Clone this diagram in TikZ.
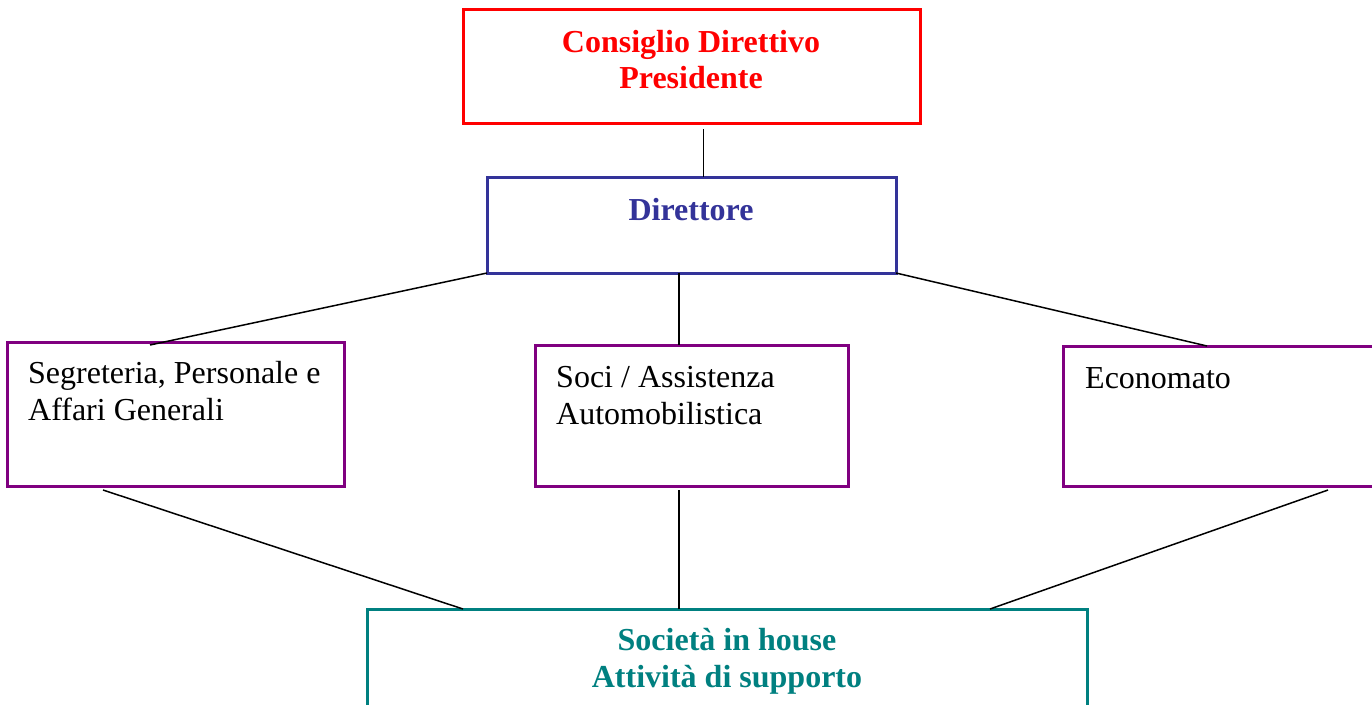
\documentclass[tikz,border=0pt]{standalone}
\usepackage{fontspec}
\setmainfont{Liberation Serif}
\definecolor{cdred}{HTML}{FF0000}
\definecolor{dirblue}{HTML}{333399}
\definecolor{offpurple}{HTML}{800080}
\definecolor{socteal}{HTML}{008080}
\tikzset{
  box/.style={draw, line width=3pt, inner sep=0pt, outer sep=0pt, anchor=north west, fill=white},
  conn/.style={draw=black, line width=1.5pt},
  lbl/.style={inner sep=0pt, font=\fontsize{32}{38}\selectfont},
  blbl/.style={lbl, font=\fontsize{32}{38}\selectfont\bfseries, anchor=base},
}
\begin{document}
\begin{tikzpicture}[x=1pt,y=-1pt]
\useasboundingbox (0,0) rectangle (1372,704);
% boxes
\node[box, draw=cdred, minimum width=457pt, minimum height=114pt] (cd) at (463,9) {};
\node[box, draw=dirblue, minimum width=409pt, minimum height=96pt] (dir) at (487,177) {};
\node[box, draw=offpurple, minimum width=337pt, minimum height=144pt] (seg) at (7,342) {};
\node[box, draw=offpurple, minimum width=313pt, minimum height=141pt] (soci) at (535,345) {};
\node[box, draw=offpurple, minimum width=320pt, minimum height=140pt] (econ) at (1063,346) {};
\node[box, draw=socteal, minimum width=720pt, minimum height=120pt] (soc) at (367,609) {};
% connectors
\draw[conn] ([xshift=12pt,yshift=-6pt]cd.south) -- ([xshift=12pt]dir.north);
\draw[conn] (dir.south west) -- ([xshift=143pt,yshift=-3pt]seg.north west);
\draw[conn] ([xshift=-12.5pt]dir.south) -- ([xshift=-12.5pt]soci.north);
\draw[conn] (dir.south east) -- ([xshift=144pt]econ.north west);
\draw[conn] ([xshift=96pt,yshift=-4pt]seg.south west) -- ([xshift=96pt]soc.north west);
\draw[conn] ([xshift=-12.5pt,yshift=-4pt]soci.south) -- ([xshift=312pt]soc.north west);
\draw[conn] ([xshift=265pt,yshift=-4pt]econ.south west) -- ([xshift=623pt]soc.north west);
% texts
\node[blbl, text=cdred] (cdt1) at (691,52) {Consiglio Direttivo};
\node[blbl, text=cdred] (cdt2) at (691,88) {Presidente};
\node[blbl, text=dirblue] (dirt) at (691,220) {Direttore};
\node[lbl, anchor=base west] (segt1) at (28,383) {Segreteria, Personale e};
\node[lbl, anchor=base west] (segt2) at (28,420) {Affari Generali};
\node[lbl, anchor=base west] (socit1) at (556,387) {Soci / Assistenza};
\node[lbl, anchor=base west] (socit2) at (556,424) {Automobilistica};
\node[lbl, anchor=base west] (econt) at (1085,388) {Economato};
\node[blbl, text=socteal] (soct1) at (727,650) {Società in house};
\node[blbl, text=socteal] (soct2) at (727,687) {Attività di supporto};
\end{tikzpicture}
\end{document}
